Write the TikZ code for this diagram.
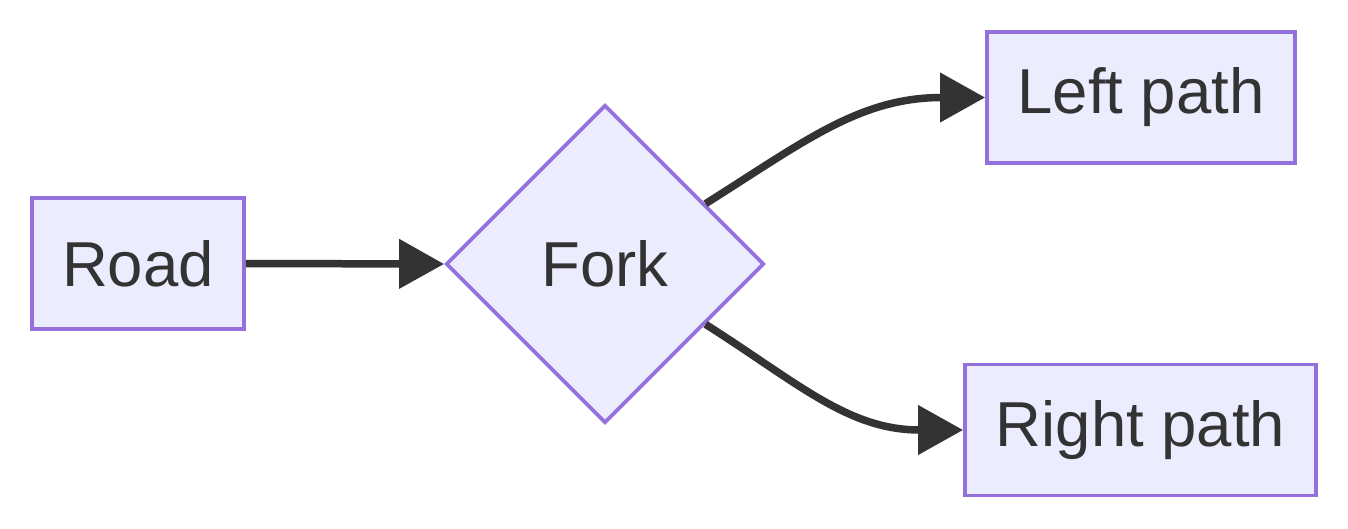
\documentclass[tikz,border=0pt]{standalone}
\usepackage{fontspec}
\setmainfont{Liberation Sans}
\usetikzlibrary{shapes.geometric,arrows.meta,calc}
\definecolor{nodefill}{HTML}{ECECFF}
\definecolor{nodeborder}{HTML}{9370DB}
\definecolor{edgecol}{HTML}{333333}
\begin{document}
\begin{tikzpicture}[x=1pt,y=-1pt,
  box/.style={draw=nodeborder,fill=nodefill,line width=3.8pt,inner sep=0pt,
    text=edgecol,font=\fontsize{63.5}{76}\selectfont},
  decide/.style={box,diamond,aspect=1,minimum width=318pt,minimum height=318pt},
  edge/.style={draw=edgecol,line width=7.5pt,-{Triangle[length=45pt,width=48pt]}}]
\useasboundingbox (0,0) rectangle (1348,528);
\fill[white] (0,0) rectangle (1348,528);
\node[box,minimum width=212pt,minimum height=131pt] (road) at (138,263.5) {Road};
\node[decide] (fork) at (605,264) {Fork};
\node[box,minimum width=308pt,minimum height=131pt] (left) at (1141,97.5) {Left path};
\node[box,minimum width=351pt,minimum height=131pt] (right) at (1140.5,430) {Right path};
\coordinate (fa) at ($(fork.north)!0.625!(fork.east)$);
\coordinate (fb) at ($(fork.south)!0.625!(fork.east)$);
\draw[edge] (road.east) -- (fork.west);
\draw[edge] (fa) .. controls (805,141) and (860,97.5) .. (left.west);
\draw[edge] (fb) .. controls (798,383) and (848,430) .. (right.west);
\end{tikzpicture}
\end{document}
